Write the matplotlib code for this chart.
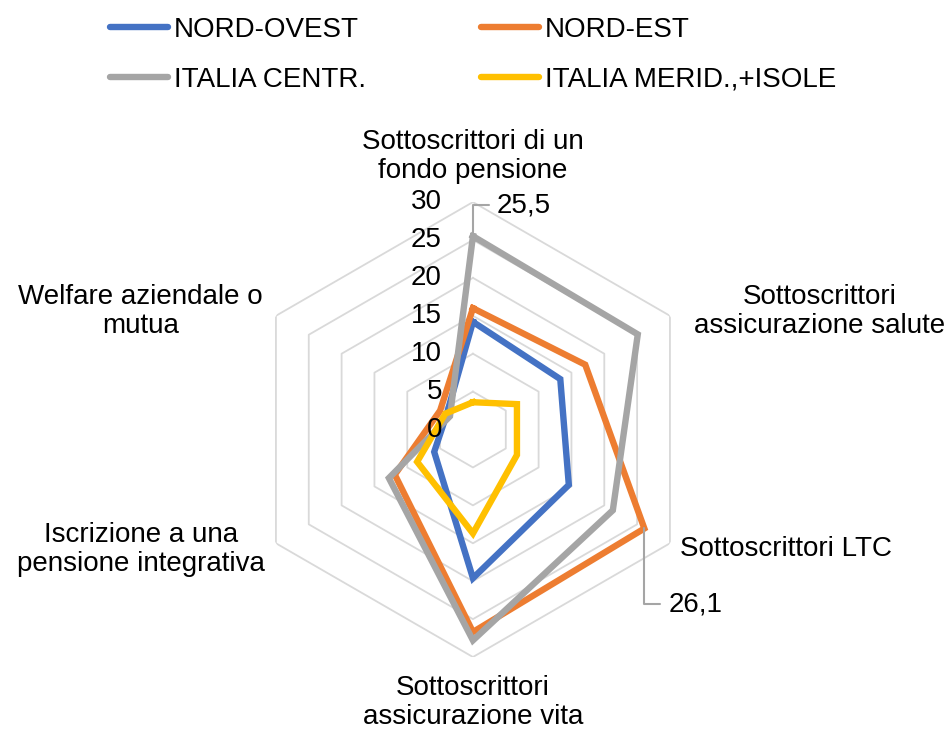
import numpy as np
import matplotlib.pyplot as plt
from matplotlib.lines import Line2D

plt.rcParams['font.family'] = ['Liberation Sans', 'DejaVu Sans']

# Axes of the radar, clockwise from the top
categories = [
    "Sottoscrittori di un\nfondo pensione",
    "Sottoscrittori\nassicurazione salute",
    "Sottoscrittori LTC",
    "Sottoscrittori\nassicurazione vita",
    "Iscrizione a una\npensione integrativa",
    "Welfare aziendale o\nmutua",
]
series_names = ["NORD-OVEST", "NORD-EST", "ITALIA CENTR.", "ITALIA MERID.,+ISOLE"]
nord_ovest = [14.2, 13.3, 14.6, 19.6, 5.9, 4.0]
nord_est = [16.0, 17.1, 26.1, 26.7, 11.9, 5.0]
italia_centr = [25.5, 25.1, 21.3, 27.8, 12.8, 3.5]
italia_merid = [3.6, 6.7, 6.7, 13.7, 8.5, 4.2]
ticks = [0, 5, 10, 15, 20, 25, 30]

colors = ["#4472C4", "#ED7D31", "#A5A5A5", "#FFC000"]

n = len(categories)
theta = np.arange(n) * 2 * np.pi / n
theta_closed = np.append(theta, theta[0])

fig = plt.figure(figsize=(9.44, 7.31), dpi=100)
ax = fig.add_axes([0.260, 0.1012, 0.482, 0.6224], projection="polar")
ax.set_theta_offset(np.pi / 2)
ax.set_theta_direction(-1)
ax.set_ylim(0, 30)
ax.grid(False)
ax.set_xticks([])
ax.set_yticks([])
ax.spines["polar"].set_visible(False)
ax.patch.set_visible(False)

# hexagonal gridlines
for t in ticks[1:]:
    ax.plot(theta_closed, [t] * (n + 1), color="#D9D9D9", lw=1.3, zorder=1)

handles = []
for vals, name, col in zip([nord_ovest, nord_est, italia_centr, italia_merid],
                           series_names, colors):
    ax.plot(theta_closed, vals + vals[:1], color=col, lw=4.6,
            solid_joinstyle="miter", zorder=3)
    handles.append(Line2D([], [], color=col, lw=4.6, solid_capstyle="round"))

# tick labels along the top axis
for t in ticks:
    ax.annotate(str(t), xy=(0, t), xytext=(-31, 0), textcoords="offset pixels",
                ha="right", va="center", fontsize=20, color="black", zorder=6)

# category labels, anchored at the outer vertex
label_pos = [
    ((0, 46), "center", "center"),
    ((150, 4), "center", "center"),
    ((10, -6), "left", "center"),
    ((0, -45), "center", "center"),
    ((-11, -6), "right", "center"),
    ((-13, 4), "right", "center"),
]
for th, lab, (off, ha, va) in zip(theta, categories, label_pos):
    ax.annotate(lab, xy=(th, 30), xytext=off, textcoords="offset pixels",
                ha=ha, va=va, multialignment="center", fontsize=20,
                linespacing=1.15, annotation_clip=False)

# data labels with leader lines
leader = dict(arrowstyle="-", color="#A5A5A5", lw=1.5,
              connectionstyle="angle,angleA=180,angleB=90,rad=0",
              shrinkA=4, shrinkB=0)
ax.annotate("25,5", xy=(theta[0], italia_centr[0]), xytext=(24, 31),
            textcoords="offset pixels", ha="left", va="center", fontsize=20,
            arrowprops=leader, annotation_clip=False, zorder=6)
ax.annotate("26,1", xy=(theta[2], nord_est[2]), xytext=(24, -76),
            textcoords="offset pixels", ha="left", va="center", fontsize=20,
            arrowprops=leader, annotation_clip=False, zorder=6)

order = [0, 2, 1, 3]
fig.legend([handles[i] for i in order], [series_names[i] for i in order],
           ncol=2, loc="upper left", bbox_to_anchor=(0.090, 1.011),
           frameon=False, fontsize=20, handlelength=2.1, handletextpad=0.2,
           columnspacing=4.15, labelspacing=0.85)

fig.savefig("out.png", dpi=100)
